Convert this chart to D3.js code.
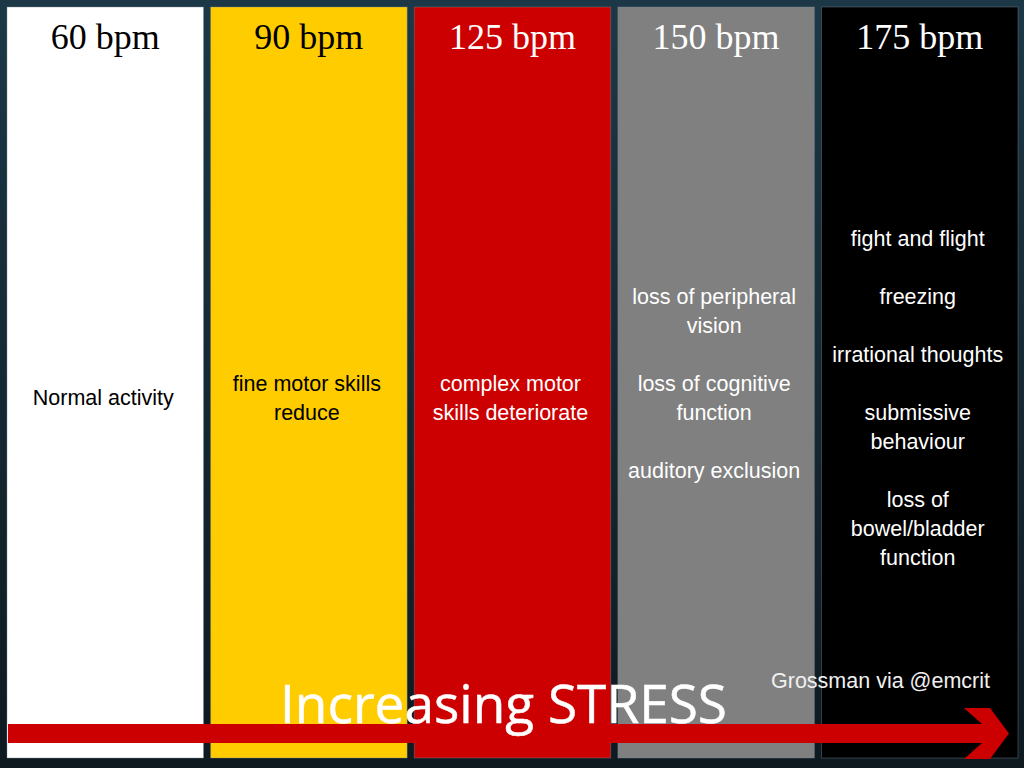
<!DOCTYPE html>
<html><head><meta charset="utf-8">
<script src="https://cdn.jsdelivr.net/npm/d3@7"></script>
<style>html,body{margin:0;padding:0;background:#13232d;}svg{display:block;}</style>
</head><body>
<svg id="c" width="1024" height="768"></svg>
<script>
const categories = ["60 bpm","90 bpm","125 bpm","150 bpm","175 bpm"];
const panelColors = ["#ffffff","#ffcc00","#cc0000","#808080","#000000"];
const textColors = ["#000000","#000000","#ffffff","#ffffff","#ffffff"];
const effects = [
  ["Normal activity"],
  ["fine motor skills","reduce"],
  ["complex motor","skills deteriorate"],
  ["loss of peripheral","vision","","loss of cognitive","function","","auditory exclusion",""],
  ["fight and flight","","freezing","","irrational thoughts","","submissive","behaviour","","loss of","bowel/bladder","function"]
];
const axisLabel = "Increasing STRESS";
const credit = "Grossman via @emcrit";

(function(){
const W = 1024, H = 768;
const svg = d3.select("#c");
const defs = svg.append("defs");
const g = defs.append("linearGradient").attr("id","bg").attr("x1",0).attr("y1",0).attr("x2",0).attr("y2",1);
g.append("stop").attr("offset","0%").attr("stop-color","#1c3846");
g.append("stop").attr("offset","100%").attr("stop-color","#0e1920");
svg.append("rect").attr("width",W).attr("height",H).attr("fill","url(#bg)");

const x = d3.scaleBand().domain(categories).range([7,1018]).paddingInner(0.035).paddingOuter(0);
const panelTop = 7, panelBottom = 758;

const panels = svg.selectAll("g.panel").data(categories).join("g").attr("class","panel");
panels.append("rect")
  .attr("x", d => x(d)).attr("y", panelTop)
  .attr("width", x.bandwidth()).attr("height", panelBottom - panelTop)
  .attr("fill", (d,i) => panelColors[i])
  .attr("stroke","rgba(120,140,150,0.5)").attr("stroke-width",0.8);

panels.append("text")
  .attr("x", d => x(d) + x.bandwidth()/2).attr("y", 49)
  .attr("text-anchor","middle")
  .attr("font-family","'Liberation Serif','DejaVu Serif',serif")
  .attr("font-size",36)
  .attr("fill",(d,i) => textColors[i])
  .text(d => d);

const lh = 29, center = 398;
panels.each(function(d,i){
  const lines = effects[i];
  const n = lines.length;
  const y0 = center - (n-1)*lh/2;
  d3.select(this).selectAll("text.eff").data(lines).join("text").attr("class","eff")
    .attr("x", x(d) + x.bandwidth()/2 - 2)
    .attr("y", (l,j) => y0 + j*lh + 7)
    .attr("text-anchor","middle")
    .attr("font-family","'Liberation Sans',Arial,sans-serif")
    .attr("font-size",21.5)
    .attr("fill", textColors[i])
    .text(l => l);
});

// arrow
const ax0 = 8, ax1 = 1009, ay = 733.5, sh = 9.5;
const arrow = [
  [ax0, ay-sh],[982, ay-sh],[964, 708],[990, 708],[ax1, ay],
  [990, 759],[964, 759],[982, ay+sh],[ax0, ay+sh]
];
svg.append("path").attr("d", d3.line()(arrow) + "Z").attr("fill","#cc0000");

svg.append("text")
  .attr("x",280).attr("y",723)
  .attr("font-family","'Open Sans',Lato,sans-serif")
  .attr("font-weight",400)
  .attr("font-size",53)
  .attr("textLength",447).attr("lengthAdjust","spacingAndGlyphs")
  .attr("fill","#ffffff")
  .attr("stroke","#ffffff").attr("stroke-width",0.5)
  .text(axisLabel);

svg.append("text")
  .attr("x",771).attr("y",688)
  .attr("font-family","'Liberation Sans',Arial,sans-serif")
  .attr("font-size",21.5)
  .attr("fill","#f0f0f0")
  .text(credit);
})();
</script>
</body></html>
